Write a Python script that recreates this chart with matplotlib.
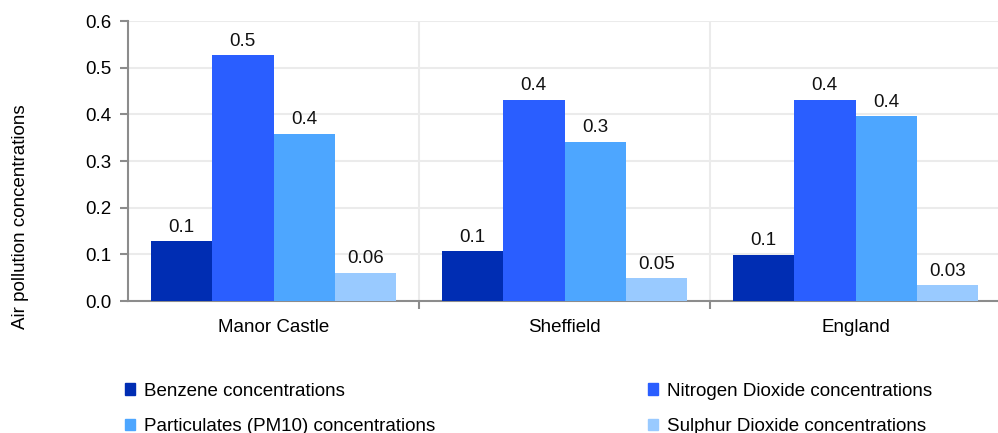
"""Grouped bar chart of air pollution concentrations by area."""
import numpy as np
import matplotlib
matplotlib.use("Agg")
import matplotlib.pyplot as plt
from matplotlib.patches import Patch

plt.rcParams["font.family"] = ["Liberation Sans", "DejaVu Sans"]

areas = ["Manor Castle", "Sheffield", "England"]
series = [
    "Benzene concentrations",
    "Nitrogen Dioxide concentrations",
    "Particulates (PM10) concentrations",
    "Sulphur Dioxide concentrations",
]
benzene = [0.128, 0.107, 0.099]
nitrogen_dioxide = [0.527, 0.431, 0.431]
particulates = [0.358, 0.341, 0.396]
sulphur_dioxide = [0.060, 0.049, 0.034]
colors = ["#002DB3", "#2A5EFF", "#4DA6FF", "#99CAFF"]

values = [benzene, nitrogen_dioxide, particulates, sulphur_dioxide]
FS = 13.5

fig = plt.figure(figsize=(9.98, 4.33), dpi=100)
ax = fig.add_axes([128 / 998, 1 - 301 / 433, 873 / 998, 280 / 433])

x = np.arange(len(areas))
width = 0.211
grey = "#8C8C8C"
for i, (vals, col) in enumerate(zip(values, colors)):
    pos = x + (i - 1.5) * width
    bars = ax.bar(pos, vals, width=width, color=col, linewidth=0, zorder=3)
    for b, v in zip(bars, vals):
        ax.annotate(f"{v:.1g}", (b.get_x() + b.get_width() / 2, v),
                    xytext=(0, 4), textcoords="offset points",
                    ha="center", va="bottom", fontsize=FS, color="#111111")

ax.set_xlim(-0.5, 2.5)
ax.set_ylim(0, 0.6)
ax.set_yticks(np.arange(0, 0.61, 0.1))
ax.set_yticklabels([f"{t:.1f}" for t in np.arange(0, 0.61, 0.1)])
ax.set_xticks(x)
ax.set_xticklabels(areas)
ax.set_xticks(x[:-1] + 0.5, minor=True)
ax.tick_params(axis="x", which="major", length=0, pad=13, labelsize=FS)
ax.tick_params(axis="x", which="minor", length=6, width=1.5, color=grey)
ax.tick_params(axis="y", length=6, width=1.5, color=grey, pad=6, labelsize=FS)

ax.grid(axis="y", color="#EBEBEB", linewidth=1.5, zorder=0)
ax.grid(axis="x", which="minor", color="#EBEBEB", linewidth=1.5, zorder=0)
for s in ["top", "right"]:
    ax.spines[s].set_visible(False)
for s in ["left", "bottom"]:
    ax.spines[s].set_color(grey)
    ax.spines[s].set_linewidth(1.5)

fig.text(21 / 998, 1 - 217 / 433, "Air pollution concentrations",
         rotation=90, ha="center", va="center", fontsize=FS)

handles = [Patch(color=c) for c in colors]
order = [0, 2, 1, 3]
fig.legend([handles[i] for i in order], [series[i] for i in order],
           ncol=2, loc="upper left", bbox_to_anchor=(125 / 998, 1 - 382.5 / 433),
           frameon=False, fontsize=FS, handlelength=0.55, handleheight=0.55,
           handletextpad=0.45, columnspacing=11.35, labelspacing=1.0,
           borderpad=0, borderaxespad=0)

fig.savefig("out.png", dpi=100)
